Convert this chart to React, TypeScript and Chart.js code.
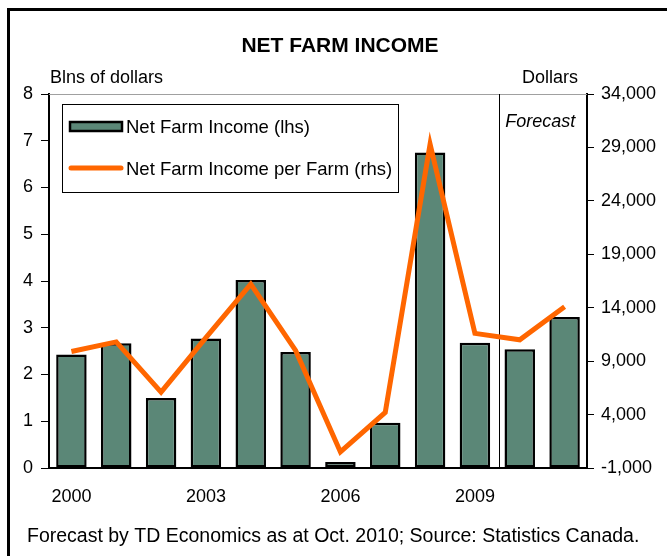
import React, { useEffect, useRef } from "react";
import { Chart, registerables } from "chart.js";

Chart.register(...registerables);

const years = ["2000", "2001", "2002", "2003", "2004", "2005", "2006", "2007", "2008", "2009", "2010", "2011"];
const incomeBlns = [2.43, 2.67, 1.5, 2.77, 4.02, 2.48, 0.13, 0.97, 6.75, 2.68, 2.54, 3.23];
const incomePerFarm = [9900, 10800, 6100, 11200, 16200, 10000, 500, 4200, 29300, 11600, 11000, 14100];
const leftAxis = { min: 0, max: 8, step: 1 };
const rightAxis = { min: -1000, max: 34000, step: 5000 };
const shownYearEvery = 3;
const forecastStartIndex = 10;

const titleText = "NET FARM INCOME";
const leftUnit = "Blns of dollars";
const rightUnit = "Dollars";
const forecastText = "Forecast";
const footerText = "Forecast by TD Economics as at Oct. 2010; Source: Statistics Canada.";
const seriesLabels = ["Net Farm Income (lhs)", "Net Farm Income per Farm (rhs)"];

const FONT = "'Liberation Sans', Arial, Helvetica, sans-serif";
const BAR_COLOR = "#5b8777";
const LINE_COLOR = "#ff6600";

const decorPlugin = {
  id: "decor",
  beforeDatasetsDraw(chart: any) {
    const ctx = chart.ctx;
    const { left, right, top, bottom } = chart.chartArea;
    const x = chart.scales.x;
    ctx.save();
    ctx.strokeStyle = "#a0a0a0";
    ctx.lineWidth = 1;
    ctx.beginPath();
    ctx.moveTo(left, top + 0.5);
    ctx.lineTo(right, top + 0.5);
    ctx.stroke();
    const fx = (x.getPixelForTick(forecastStartIndex - 1) + x.getPixelForTick(forecastStartIndex)) / 2 + 2;
    ctx.strokeStyle = "#000";
    ctx.lineWidth = 1;
    ctx.beginPath();
    ctx.moveTo(Math.round(fx) + 0.5, top);
    ctx.lineTo(Math.round(fx) + 0.5, bottom);
    ctx.stroke();
    ctx.restore();
  },
  afterDraw(chart: any) {
    const ctx = chart.ctx;
    const { left, right, top } = chart.chartArea;
    const x = chart.scales.x;
    ctx.save();
    ctx.fillStyle = "#000";
    ctx.fillRect(7, 8, 3, 548);
    ctx.fillRect(7, 8, 660, 3);

    ctx.fillStyle = "#000";
    ctx.textBaseline = "middle";
    ctx.textAlign = "center";
    ctx.font = `bold 21px ${FONT}`;
    ctx.fillText(titleText, 340, 46);

    ctx.font = `18px ${FONT}`;
    ctx.textAlign = "left";
    ctx.fillText(leftUnit, left + 1, 78);
    ctx.textAlign = "right";
    ctx.fillText(rightUnit, right - 9, 78);

    const fx = (x.getPixelForTick(forecastStartIndex - 1) + x.getPixelForTick(forecastStartIndex)) / 2 + 2;
    ctx.font = `italic 18px ${FONT}`;
    ctx.textAlign = "left";
    ctx.fillText(forecastText, fx + 6, top + 28);

    const lx = 62, ly = 104, lw = 336, lh = 88;
    ctx.fillStyle = "#fff";
    ctx.fillRect(lx, ly, lw, lh);
    ctx.strokeStyle = "#000";
    ctx.lineWidth = 1;
    ctx.strokeRect(lx + 0.5, ly + 0.5, lw, lh);
    ctx.fillStyle = BAR_COLOR;
    ctx.fillRect(70, 122, 52, 9);
    ctx.lineWidth = 2.5;
    ctx.strokeStyle = "#000";
    ctx.strokeRect(70, 122, 52, 9);
    ctx.strokeStyle = LINE_COLOR;
    ctx.lineWidth = 5;
    ctx.lineCap = "round";
    ctx.beginPath();
    ctx.moveTo(71, 168);
    ctx.lineTo(121, 168);
    ctx.stroke();
    ctx.fillStyle = "#000";
    ctx.font = `18.5px ${FONT}`;
    ctx.textAlign = "left";
    ctx.fillText(chart.data.datasets[0].label, 126, 128);
    ctx.fillText(chart.data.datasets[1].label, 126, 170);

    ctx.font = `19.5px ${FONT}`;
    ctx.fillText(footerText, 27, 537);
    ctx.restore();
  },
};

export default function App() {
  const canvasRef = useRef<HTMLCanvasElement | null>(null);

  useEffect(() => {
    if (!canvasRef.current) return;
    const chart = new Chart(canvasRef.current, {
      type: "bar",
      data: {
        labels: years,
        datasets: [
          {
            type: "bar",
            label: seriesLabels[0],
            data: incomeBlns,
            backgroundColor: BAR_COLOR,
            borderColor: "#000",
            borderWidth: 2.5,
            borderSkipped: false,
            barPercentage: 0.68,
            categoryPercentage: 1,
            yAxisID: "y",
            order: 2,
          },
          {
            type: "line",
            label: seriesLabels[1],
            data: incomePerFarm,
            borderColor: LINE_COLOR,
            backgroundColor: LINE_COLOR,
            borderWidth: 5,
            pointRadius: 0,
            tension: 0,
            yAxisID: "y1",
            order: 1,
          },
        ],
      },
      options: {
        responsive: false,
        animation: false,
        devicePixelRatio: 1,
        layout: { padding: { top: 94, bottom: 48, left: 0, right: 0 } },
        plugins: {
          legend: { display: false },
          title: { display: false },
          tooltip: { enabled: false },
        },
        scales: {
          x: {
            type: "category",
            offset: true,
            grid: { display: false, drawTicks: false },
            border: { display: true, color: "#000", width: 2 },
            ticks: {
              autoSkip: false,
              maxRotation: 0,
              padding: 18,
              color: "#000",
              font: { family: FONT, size: 18 },
              callback: (_v: any, i: number) => (i % shownYearEvery === 0 ? years[i] : ""),
            },
            afterFit: (s: any) => {
              s.height = 40;
            },
          },
          y: {
            position: "left",
            min: leftAxis.min,
            max: leftAxis.max,
            grid: { display: true, drawOnChartArea: false, drawTicks: true, tickLength: 8, color: "#000", lineWidth: 1 },
            border: { display: true, color: "#000", width: 2 },
            ticks: {
              stepSize: leftAxis.step,
              padding: 8,
              color: "#000",
              font: { family: FONT, size: 18 },
            },
            afterFit: (s: any) => {
              s.width = 49;
            },
          },
          y1: {
            position: "right",
            min: rightAxis.min,
            max: rightAxis.max,
            grid: { display: true, drawOnChartArea: false, drawTicks: true, tickLength: 7, color: "#000", lineWidth: 1 },
            border: { display: true, color: "#000", width: 2 },
            ticks: {
              stepSize: rightAxis.step,
              padding: 7,
              color: "#000",
              font: { family: FONT, size: 18 },
              callback: (v: any) => Number(v).toLocaleString("en-US"),
            },
            afterFit: (s: any) => {
              s.width = 80;
            },
          },
        },
      },
      plugins: [decorPlugin],
    } as any);
    return () => chart.destroy();
  }, []);

  return (
    <div style={{ position: "fixed", left: 0, top: 0, width: 667, height: 556, background: "#fff" }}>
      <canvas ref={canvasRef} width={667} height={556} style={{ display: "block", width: 667, height: 556 }} />
    </div>
  );
}
